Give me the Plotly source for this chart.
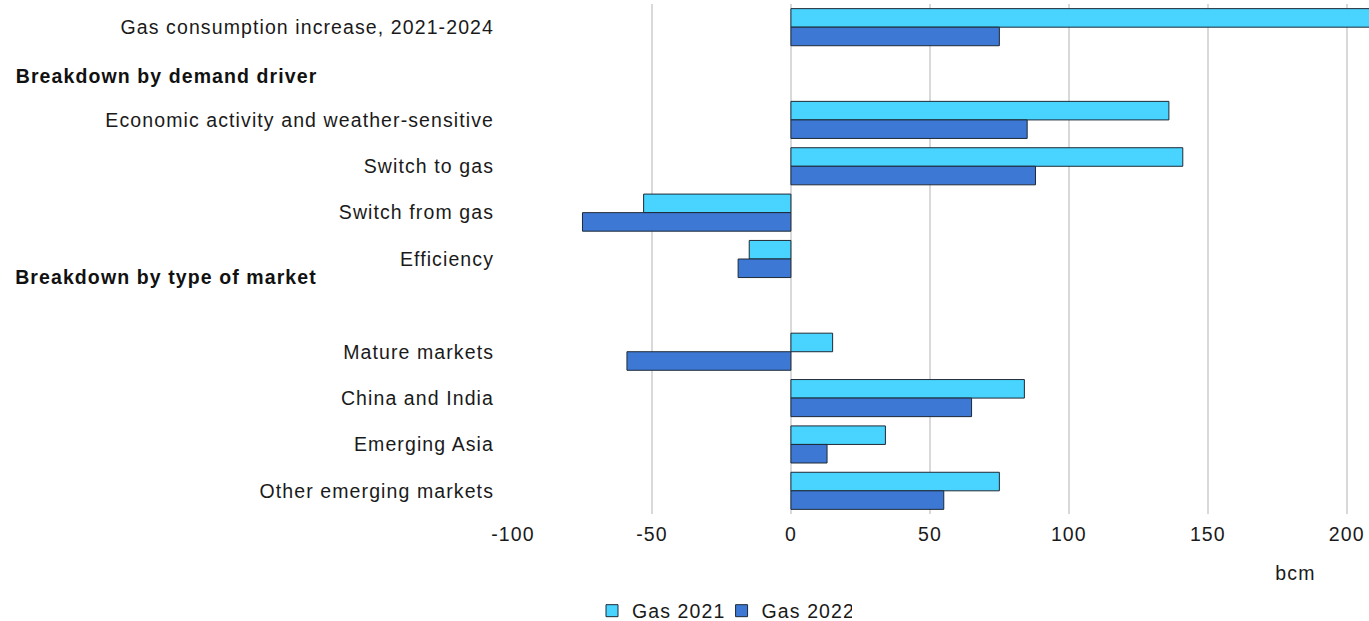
import plotly.graph_objects as go

categories = [
    "Gas consumption increase, 2021-2024",
    " ",
    "Economic activity and weather-sensitive",
    "Switch to gas",
    "Switch from gas",
    "Efficiency",
    "  ",
    "Mature markets",
    "China and India",
    "Emerging Asia",
    "Other emerging markets",
]
gas_2021 = [215, None, 136, 141, -53, -15, None, 15, 84, 34, 75]
gas_2022 = [75, None, 85, 88, -75, -19, None, -59, 65, 13, 55]
tick_labels = ["-100", "-50", "0", "50", "100", "150", "200"]
tick_vals = [-100, -50, 0, 50, 100, 150, 200]
headings = ["Breakdown by demand driver", "Breakdown by type of market"]

FONT = "Liberation Sans, Arial, sans-serif"
FS = 19.5
fig = go.Figure()
fig.add_trace(go.Bar(
    y=categories, x=gas_2021, name="Gas 2021", orientation="h",
    marker=dict(color="#48D4FF", line=dict(color="#1e2a36", width=1)),
))
fig.add_trace(go.Bar(
    y=categories, x=gas_2022, name="Gas 2022", orientation="h",
    marker=dict(color="#3C78D4", line=dict(color="#1e2a36", width=1)),
))

fig.update_layout(
    width=1369, height=621,
    margin=dict(l=513, r=0, t=4, b=107, autoexpand=False),
    paper_bgcolor="white", plot_bgcolor="white",
    barmode="group", bargap=0.2, bargroupgap=0,
    font=dict(family=FONT, size=FS, color="#1a1a1a"),
    showlegend=True,
    legend=dict(orientation="h", x=(722 - 513) / 856, xanchor="center",
                y=-(611 - 514) / 510, yref="paper", yanchor="middle",
                font=dict(size=FS), itemwidth=30, tracegroupgap=0),
    xaxis=dict(range=[-100, 208], tickvals=tick_vals, ticktext=tick_labels,
               showgrid=True, gridcolor="#d9d9d9", gridwidth=1.5,
               zeroline=True, zerolinecolor="#d9d9d9", zerolinewidth=1.5,
               showline=False, ticks="", tickfont=dict(size=FS), ticklabelstandoff=6),
    yaxis=dict(autorange="reversed", showgrid=False, zeroline=False, showline=False,
               ticks="", tickfont=dict(size=FS), ticklabelstandoff=18),
)

fig.add_annotation(text="<b>" + headings[0] + "</b>", xref="paper", yref="y",
                   x=(166 - 513) / 856, y=1.05, xanchor="center", yanchor="middle",
                   showarrow=False, font=dict(size=FS, color="#111111"))
fig.add_annotation(text="<b>" + headings[1] + "</b>", xref="paper", yref="y",
                   x=(166 - 513) / 856, y=5.39, xanchor="center", yanchor="middle",
                   showarrow=False, font=dict(size=FS, color="#111111"))
fig.add_annotation(text="bcm", xref="paper", yref="paper",
                   x=(1295 - 513) / 856, y=-(573 - 514) / 510, xanchor="center",
                   yanchor="middle", showarrow=False, font=dict(size=FS))

post = (
    "document.body.style.margin='0';"
    "document.querySelectorAll('.main-svg text').forEach("
    "function(t){t.style.letterSpacing='1.1px';});"
)
fig.write_html("out.html", post_script=post, config={"displayModeBar": False})
